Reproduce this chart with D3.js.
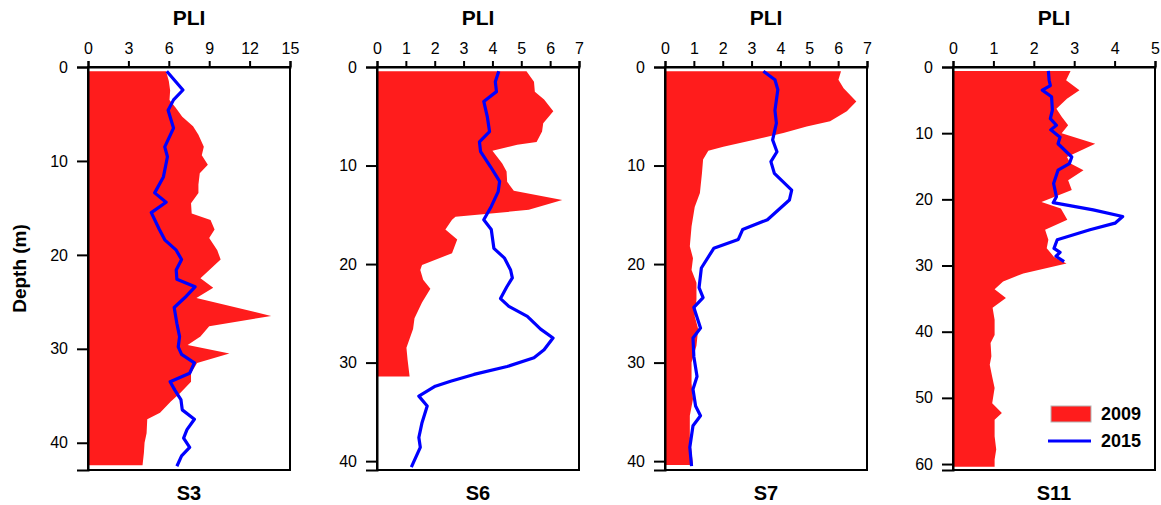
<!DOCTYPE html>
<html>
<head>
<meta charset="utf-8">
<script src="https://cdn.jsdelivr.net/npm/d3@7"></script>
<style>
body { margin: 0; background: #fff; }
svg text { font-family: "Liberation Sans", Arial, sans-serif; fill: #000; }
.axis path, .axis line { stroke: #000; stroke-width: 2; }
.axis text { font-size: 16px; }
</style>
</head>
<body>
<div class="container"></div>
<script>
var w = 1161;
var h = 505;

// station labels and legend
var stations = ["S3", "S6", "S7", "S11"];
var years = ["2009", "2015"];

// x (PLI) ticks and y (depth) ticks per station
var s3PliTicks = [0, 3, 6, 9, 12, 15];
var s6PliTicks = [0, 1, 2, 3, 4, 5, 6, 7];
var s7PliTicks = [0, 1, 2, 3, 4, 5, 6, 7];
var s11PliTicks = [0, 1, 2, 3, 4, 5];
var s3DepthTicks = [0, 10, 20, 30, 40];
var s6DepthTicks = [0, 10, 20, 30, 40];
var s7DepthTicks = [0, 10, 20, 30, 40];
var s11DepthTicks = [0, 10, 20, 30, 40, 50, 60];
var depthMax = [42.9, 40.9, 40.9, 60.9];

// S3
var s3Depth09 = [0.46, 1.5, 2.5, 3.5, 4.3, 5.3, 6.3, 7.2, 8.5, 9.4, 10.4, 11.3, 12.5, 13.4, 14.5, 15.6, 16.3, 17.3, 18.2, 19.5, 20.5, 22.5, 23.5, 24.6, 26.5, 27.6, 28.7, 29.6, 30.5, 31.5, 32.6, 33.5, 34.7, 35.6, 36.8, 37.5, 39.0, 40.0, 41.1, 42.4];
var s3Pli09 = [5.8, 6.0, 6.1, 6.05, 6.5, 7.0, 7.8, 8.2, 8.6, 8.45, 8.9, 8.3, 8.2, 8.2, 7.65, 7.7, 9.1, 9.4, 9.0, 9.6, 9.85, 8.35, 9.3, 8.05, 13.6, 9.0, 8.35, 7.4, 10.5, 8.1, 7.65, 7.65, 6.85, 6.15, 5.35, 4.4, 4.35, 4.2, 4.15, 4.05];
var s3Depth15 = [0.46, 2.45, 3.5, 4.6, 6.5, 8.5, 9.55, 11.7, 13.4, 14.4, 15.5, 17.3, 18.4, 19.5, 20.5, 21.6, 22.6, 23.4, 24.4, 25.6, 27.3, 28.7, 29.8, 30.6, 31.5, 32.6, 33.5, 34.4, 35.4, 36.5, 37.5, 38.6, 39.5, 40.5, 41.4, 42.5];
var s3Pli15 = [5.85, 7.05, 6.35, 5.95, 6.35, 5.7, 5.9, 5.6, 4.95, 5.8, 4.7, 5.3, 5.7, 6.55, 6.95, 6.55, 6.6, 7.95, 7.3, 6.4, 6.6, 6.8, 6.7, 6.95, 7.9, 7.55, 6.1, 6.45, 6.9, 7.0, 7.9, 7.35, 7.1, 7.55, 6.95, 6.6];

// S6
var s6Depth09 = [0.44, 1.5, 2.5, 3.3, 4.5, 5.7, 6.55, 7.6, 7.9, 8.5, 9.8, 10.6, 11.65, 12.55, 13.5, 14.5, 15.2, 15.5, 16.5, 17.5, 18.9, 20.1, 20.6, 21.6, 22.5, 23.9, 25.5, 26.6, 28.5, 29.7, 31.4];
var s6Pli09 = [5.18, 5.44, 5.47, 5.79, 6.11, 5.76, 5.72, 5.53, 4.86, 4.0, 4.34, 4.49, 4.51, 4.74, 6.42, 5.26, 2.72, 2.6, 2.37, 2.78, 2.6, 1.56, 1.5, 1.6, 1.85, 1.56, 1.3, 1.25, 1.02, 1.06, 1.13];
var s6Depth15 = [0.44, 1.5, 2.5, 3.5, 5.0, 6.55, 7.6, 8.6, 10.1, 11.6, 12.65, 14.15, 15.5, 16.5, 18.4, 19.4, 20.6, 21.4, 22.3, 23.5, 24.3, 25.3, 26.6, 27.5, 28.7, 29.5, 30.4, 31.2, 31.9, 32.4, 33.4, 34.4, 36.1, 37.6, 38.6, 40.6];
var s6Pli15 = [4.22, 4.1, 4.14, 3.7, 3.82, 3.9, 3.55, 3.59, 3.93, 4.25, 4.2, 3.96, 3.7, 3.96, 4.05, 4.42, 4.63, 4.69, 4.5, 4.28, 4.57, 5.21, 5.67, 6.1, 5.79, 5.44, 4.51, 3.36, 2.55, 2.02, 1.45, 1.74, 1.56, 1.45, 1.5, 1.19];

// S7
var s7Depth09 = [0.44, 1.3, 2.16, 3.5, 4.5, 5.5, 6.05, 6.7, 7.4, 8.1, 8.5, 9.4, 10.8, 12.8, 14.2, 16.2, 18.2, 19.4, 20.6, 21.9, 23.6, 25.3, 26.6, 28.3, 30.0, 32.1, 33.7, 35.4, 37.5, 39.1, 40.4];
var s7Pli09 = [6.1, 6.01, 6.19, 6.63, 6.3, 5.72, 4.91, 4.1, 3.06, 2.02, 1.5, 1.32, 1.28, 1.21, 1.03, 0.92, 0.86, 0.97, 0.92, 1.09, 1.09, 1.03, 1.15, 1.09, 0.92, 0.92, 0.97, 0.86, 0.86, 0.92, 0.97];
var s7Depth15 = [0.44, 1.3, 2.3, 4.4, 5.7, 7.4, 8.6, 9.6, 10.8, 12.5, 13.5, 15.5, 16.5, 17.5, 18.4, 20.4, 22.4, 23.4, 24.4, 26.5, 27.5, 29.4, 31.4, 32.7, 34.4, 35.4, 36.4, 38.6, 40.5];
var s7Pli15 = [3.41, 3.81, 3.91, 3.81, 3.86, 3.73, 3.88, 3.67, 3.79, 4.39, 4.31, 3.55, 2.69, 2.54, 1.69, 1.26, 1.18, 1.32, 1.0, 1.23, 0.97, 1.0, 1.11, 0.97, 1.06, 1.23, 0.97, 0.86, 0.92];

// S11
var s11Depth09 = [0.6, 2.0, 3.5, 4.8, 6.3, 7.5, 8.8, 10.0, 11.6, 13.6, 14.6, 15.6, 17.1, 18.6, 20.4, 21.4, 23.1, 24.6, 26.1, 27.4, 28.7, 29.7, 31.2, 32.4, 33.6, 34.9, 36.4, 38.2, 40.5, 41.7, 43.7, 45.0, 46.8, 48.5, 50.8, 52.3, 53.3, 55.8, 57.8, 59.3, 60.4];
var s11Pli09 = [2.91, 2.8, 3.13, 2.82, 2.56, 2.69, 2.85, 2.69, 3.52, 2.82, 2.91, 3.23, 2.85, 2.94, 2.19, 2.67, 2.83, 2.28, 2.36, 2.32, 2.5, 2.81, 1.74, 1.24, 1.03, 1.31, 0.98, 1.03, 1.03, 0.93, 0.95, 0.91, 0.97, 1.03, 0.97, 1.21, 1.03, 1.03, 1.07, 1.03, 1.03];
var s11Depth15 = [0.6, 2.0, 2.8, 3.5, 4.5, 6.5, 7.8, 8.8, 9.5, 10.6, 11.6, 13.6, 14.6, 15.6, 17.6, 19.6, 20.5, 21.6, 22.6, 23.6, 24.6, 26.1, 27.4, 28.0, 28.6, 29.4];
var s11Pli15 = [2.36, 2.38, 2.41, 2.21, 2.44, 2.46, 2.41, 2.56, 2.42, 2.65, 2.6, 2.94, 2.88, 2.6, 2.49, 2.56, 2.48, 3.47, 4.2, 4.01, 3.39, 2.58, 2.5, 2.65, 2.55, 2.75];

var red = "#ff1c1c";
var blue = "#0000ff";

var panels = [
  { left: 88, xTicks: s3PliTicks, yTicks: s3DepthTicks, d09: s3Depth09, p09: s3Pli09, d15: s3Depth15, p15: s3Pli15 },
  { left: 377, xTicks: s6PliTicks, yTicks: s6DepthTicks, d09: s6Depth09, p09: s6Pli09, d15: s6Depth15, p15: s6Pli15 },
  { left: 665, xTicks: s7PliTicks, yTicks: s7DepthTicks, d09: s7Depth09, p09: s7Pli09, d15: s7Depth15, p15: s7Pli15 },
  { left: 953, xTicks: s11PliTicks, yTicks: s11DepthTicks, d09: s11Depth09, p09: s11Pli09, d15: s11Depth15, p15: s11Pli15 }
];

var topY = 67, bottomY = 470, pw = 202;

var svg = d3.select('.container')
  .append('svg')
  .attr('width', w)
  .attr('height', h);

panels.forEach(function(p, i) {
  var xMax = p.xTicks[p.xTicks.length - 1];
  var xScale = d3.scaleLinear().domain([0, xMax]).range([0, pw]);
  var yScale = d3.scaleLinear().domain([0, depthMax[i]]).range([0, bottomY - topY]);

  var g = svg.append('g').attr('transform', 'translate(' + p.left + ',' + topY + ')');

  var rows09 = p.d09.map(function(d, k) { return [d, p.p09[k]]; });
  var rows15 = p.d15.map(function(d, k) { return [d, p.p15[k]]; });

  var area = d3.area()
    .x0(xScale(0))
    .x1(function(d) { return xScale(d[1]); })
    .y(function(d) { return yScale(d[0]); });

  g.append('path')
    .datum(rows09)
    .attr('d', area)
    .style('fill', red);

  var line = d3.line()
    .x(function(d) { return xScale(d[1]); })
    .y(function(d) { return yScale(d[0]); });

  g.append('path')
    .datum(rows15)
    .attr('d', line)
    .style('fill', 'none')
    .style('stroke', blue)
    .style('stroke-width', 3.2)
    .style('stroke-linejoin', 'round');

  g.append('rect')
    .attr('x', 0)
    .attr('y', 0)
    .attr('width', pw)
    .attr('height', bottomY - topY)
    .style('fill', 'none')
    .style('stroke', '#000')
    .style('stroke-width', 2);

  g.append('g')
    .attr('class', 'axis')
    .call(d3.axisTop(xScale).tickValues(p.xTicks).tickSizeOuter(0).tickSize(6).tickPadding(7).tickFormat(d3.format('d')));

  g.append('g')
    .attr('class', 'axis')
    .call(d3.axisLeft(yScale).tickValues(p.yTicks).tickSizeOuter(0).tickSize(11).tickPadding(9).tickFormat(d3.format('d')));

  g.selectAll('.axis').attr('font-family', null).attr('font-size', null);

  g.append('text')
    .attr('x', pw / 2)
    .attr('y', 25 - topY)
    .attr('text-anchor', 'middle')
    .style('font-size', '21px')
    .style('font-weight', 'bold')
    .text('PLI');

  g.append('text')
    .attr('x', pw / 2)
    .attr('y', 500 - topY)
    .attr('text-anchor', 'middle')
    .style('font-size', '20px')
    .style('font-weight', 'bold')
    .text(stations[i]);
});

svg.append('text')
  .attr('transform', 'translate(26,' + ((topY + bottomY) / 2) + ') rotate(-90)')
  .attr('text-anchor', 'middle')
  .style('font-size', '19px')
  .style('font-weight', 'bold')
  .text('Depth (m)');

// legend
var legend = svg.append('g').attr('id', 'legend');

legend.append('rect')
  .attr('x', 1051)
  .attr('y', 406)
  .attr('width', 40)
  .attr('height', 16)
  .style('fill', red)
  .style('stroke', '#b4b4b4')
  .style('stroke-width', 1);

legend.append('text')
  .attr('x', 1101)
  .attr('y', 420)
  .style('font-size', '18px')
  .style('font-weight', 'bold')
  .text(years[0]);

legend.append('line')
  .attr('x1', 1048)
  .attr('x2', 1091)
  .attr('y1', 441)
  .attr('y2', 441)
  .style('stroke', blue)
  .style('stroke-width', 3);

legend.append('text')
  .attr('x', 1101)
  .attr('y', 447)
  .style('font-size', '18px')
  .style('font-weight', 'bold')
  .text(years[1]);
</script>
</body>
</html>
